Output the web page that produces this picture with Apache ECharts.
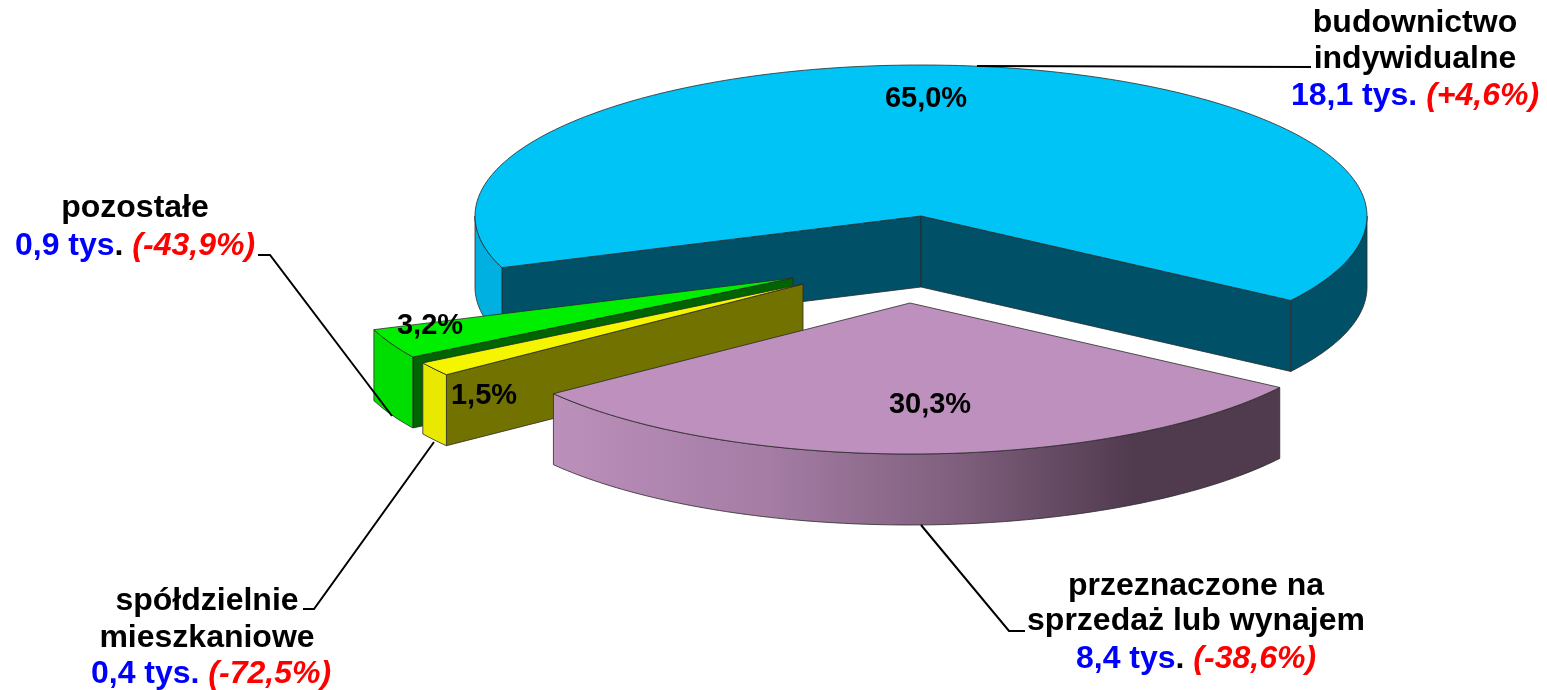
<!DOCTYPE html>
<html>
<head>
<meta charset="utf-8">
<title>budownictwo</title>
<style>
html, body { margin: 0; padding: 0; background: #fff; }
#main { width: 1547px; height: 690px; }
</style>
<script src="https://cdn.jsdelivr.net/npm/echarts@6/dist/echarts.min.js"></script>
</head>
<body>
<div id="main"></div>
<script>
// data
var categories = ['budownictwo indywidualne', 'przeznaczone na sprzedaż lub wynajem', 'spółdzielnie mieszkaniowe', 'pozostałe'];
var shares = [65.0, 30.3, 1.5, 3.2];
var thousands = ['18,1', '8,4', '0,4', '0,9'];
var changes = ['+4,6', '-38,6', '-72,5', '-43,9'];

// pie geometry, screen angle: 0 = right, grows clockwise
var startAngle = 160;
var rx = 446, ry = 151, depth = 71;
var fontName = '"Liberation Sans", Arial, sans-serif';

// back to front
var drawOrder = [0, 3, 2, 1];

// slice position (exploded) and percent label position
var sliceLayout = [
    {cx: 921, cy: 216, lx: 926, ly: 99},
    {cx: 910, cy: 303, lx: 930, ly: 405},
    {cx: 803, cy: 284, lx: 484, ly: 396},
    {cx: 793, cy: 278, lx: 430, ly: 326}
];

var pinkWall = new echarts.graphic.LinearGradient(0, 0, 1, 0, [
    {offset: 0, color: '#bb90bb'},
    {offset: 0.3, color: '#a47ca4'},
    {offset: 0.55, color: '#80607e'},
    {offset: 0.8, color: '#503a4e'},
    {offset: 1, color: '#503a4e'}
]);
var sliceColors = [
    {top: '#00c4f5', cut: '#005068', wallLeft: '#00b0e0', wallRight: '#005068'},
    {top: '#bd90bd', cut: '#503a4e', wallLeft: pinkWall, wallRight: pinkWall},
    {top: '#f5f500', cut: '#727200', wallLeft: '#e8e800', wallRight: '#e8e800'},
    {top: '#00ee00', cut: '#006400', wallLeft: '#00dd00', wallRight: '#00dd00'}
];
var edge = {stroke: '#2a2a2a', lineWidth: 0.8};

// callouts: lines of text + leader line
var callouts = [
    {x: 1415, lastX: 1415, y: [23, 59, 96], lines: ['budownictwo', 'indywidualne'], dot: 'v', leader: [[977, 66], [1311, 67]]},
    {x: 1196, lastX: 1196, y: [586, 621, 659], lines: ['przeznaczone na', 'sprzedaż lub wynajem'], dot: 'd', leader: [[921, 525], [1009, 631], [1025, 631]]},
    {x: 207, lastX: 211, y: [601, 638, 674], lines: ['spółdzielnie', 'mieszkaniowe'], dot: 'v', leader: [[303, 609], [314, 609], [434, 442]]},
    {x: 135, lastX: 135, y: [208, 246], lines: ['pozostałe'], dot: 'd', leader: [[258, 255], [270, 255], [392, 416]]}
];

function pt(s, a, dy) {
    var r = a * Math.PI / 180;
    return [s.cx + rx * Math.cos(r), s.cy + ry * Math.sin(r) + (dy || 0)];
}

function arc(s, a, b, dy) {
    var out = [];
    var n = Math.max(2, Math.ceil(Math.abs(b - a)));
    for (var i = 0; i <= n; i++) {
        out.push(pt(s, a + (b - a) * i / n, dy));
    }
    return out;
}

function poly(points, fill) {
    return {type: 'polygon', shape: {points: points}, style: {fill: fill, stroke: edge.stroke, lineWidth: edge.lineWidth}};
}

// flat face from the apex to the rim
function cutFace(s, a, fill) {
    var p = pt(s, a);
    var c = [s.cx, s.cy];
    return poly([c, p, [p[0], p[1] + depth], [c[0], c[1] + depth]], fill);
}

function plainText(text, x, y, size) {
    return {
        type: 'text',
        style: {
            text: text, x: x, y: y, fill: '#000',
            font: 'bold ' + size + 'px ' + fontName,
            align: 'center', verticalAlign: 'middle',
            textAlign: 'center', textVerticalAlign: 'middle'
        }
    };
}

function renderSlice(params, api) {
    var i = api.value(0);
    var before = 0;
    for (var k = 0; k < i; k++) {
        before += shares[k];
    }
    var a0 = startAngle + before * 3.6;
    var a1 = a0 + api.value(1) * 3.6;
    var s = sliceLayout[i];
    var col = sliceColors[i];
    var children = [];

    // only the cut faces turned to the viewer
    if (Math.cos(a0 * Math.PI / 180) < 0) {
        children.push(cutFace(s, a0, col.cut));
    }
    if (Math.cos(a1 * Math.PI / 180) > 0) {
        children.push(cutFace(s, a1, col.cut));
    }

    // outer wall, front half of the ellipse only
    [0, 360].forEach(function (off) {
        var from = Math.max(a0, off), to = Math.min(a1, off + 180);
        if (to > from) {
            var upper = arc(s, from, to);
            var lower = arc(s, to, from, depth);
            var mid = (from + to) / 2;
            var fill = Math.cos(mid * Math.PI / 180) < 0 ? col.wallLeft : col.wallRight;
            children.push(poly(upper.concat(lower), fill));
        }
    });

    children.push(poly([[s.cx, s.cy]].concat(arc(s, a0, a1)), col.top));
    return {type: 'group', children: children};
}

function renderPercent(params, api) {
    var s = sliceLayout[api.value(0)];
    return plainText(api.value(1).toFixed(1).replace('.', ',') + '%', s.lx, s.ly, 29);
}

function renderCallout(params, api) {
    var i = api.value(0);
    var c = callouts[i];
    var children = [{
        type: 'polyline',
        shape: {points: c.leader},
        style: {fill: 'none', stroke: '#000', lineWidth: 2}
    }];
    c.lines.forEach(function (line, n) {
        children.push(plainText(line, c.x, c.y[n], 32));
    });
    var base = {fontSize: 32, fontWeight: 'bold', fontFamily: fontName};
    children.push({
        type: 'text',
        style: {
            text: '{v|' + thousands[i] + ' tys}{' + c.dot + '|.} {c|(' + changes[i] + '%)}',
            x: c.lastX, y: c.y[c.lines.length],
            align: 'center', verticalAlign: 'middle',
            textAlign: 'center', textVerticalAlign: 'middle',
            fontSize: 32, fontWeight: 'bold', fontFamily: fontName,
            rich: {
                v: Object.assign({fill: '#0000ff'}, base),
                d: Object.assign({fill: '#000'}, base),
                c: Object.assign({fill: '#ff0000', fontStyle: 'italic'}, base)
            }
        }
    });
    return {type: 'group', children: children};
}

var chartData = drawOrder.map(function (i) { return [i, shares[i]]; });

var myChart = echarts.init(document.getElementById('main'), null, {renderer: 'canvas'});
var option = {
    backgroundColor: '#fff',
    animation: false,
    series: [
        {type: 'custom', name: 'slices', coordinateSystem: 'none', silent: true, z: 1, renderItem: renderSlice, data: chartData},
        {type: 'custom', name: 'callouts', coordinateSystem: 'none', silent: true, z: 2, renderItem: renderCallout, data: chartData},
        {type: 'custom', name: 'percent', coordinateSystem: 'none', silent: true, z: 3, renderItem: renderPercent, data: chartData}
    ]
};
myChart.setOption(option);
</script>
</body>
</html>
